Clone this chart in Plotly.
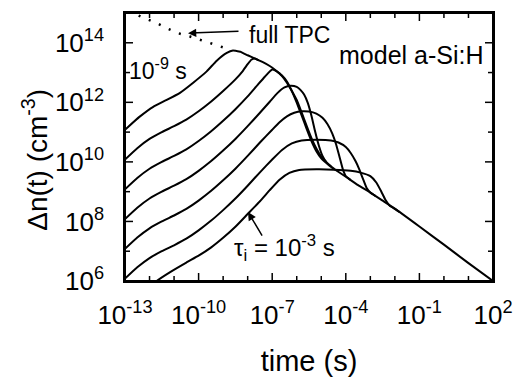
import plotly.graph_objects as go

# ---- data (log10 values) ----
# dotted "full TPC" at short times
tpc_dot_logt = [-12.85, -12.66, -12.18, -11.71, -11.3, -10.83, -10.35, -9.94, -9.53, -9.06, -8.72]
tpc_dot_logn = [15.07, 14.99, 14.82, 14.66, 14.49, 14.32, 14.21, 14.1, 13.97, 13.84, 13.77]

# solid full TPC (envelope) after the first peak
full_logt = [-8.3, -8.0, -7.7, -7.4, -7.1, -6.85, -6.6, -6.4, -6.2, -6.0, -5.8, -5.6, -5.4, -5.2,
             -5.0, -4.7, -4.4, -4.0, -3.5, -3.0, -2.5, -2.0, -1.0, 0.0, 1.0, 2.0]
full_logn = [13.7, 13.58, 13.47, 13.36, 13.22, 13.07, 12.9, 12.7, 12.38, 11.99, 11.56, 11.12, 10.7, 10.36,
             10.12, 9.9, 9.72, 9.5, 9.22, 8.97, 8.7, 8.43, 7.83, 7.22, 6.6, 6.0]

# tau_i = 1e-9 s
c1_logt = [-13.0, -12.4, -11.85, -11.3, -10.76, -10.22, -9.67, -9.26, -8.85, -8.6, -8.3]
c1_logn = [11.08, 11.52, 11.85, 12.08, 12.32, 12.66, 13.04, 13.4, 13.66, 13.74, 13.7]
# tau_i = 1e-8 s
c2_logt = [-13.0, -12.5, -12.0, -11.5, -11.0, -10.5, -10.0, -9.5, -9.0, -8.5, -8.2, -8.0, -7.85, -7.7, -7.55]
c2_logn = [10.08, 10.46, 10.77, 11.0, 11.2, 11.42, 11.7, 12.02, 12.38, 12.77, 13.05, 13.28, 13.43, 13.47, 13.41]
# tau_i = 1e-7 s
c3_logt = [-13.0, -12.5, -12.0, -11.5, -11.0, -10.5, -10.0, -9.5, -9.0, -8.5, -8.0, -7.6, -7.3, -7.0,
           -6.8, -6.6, -6.4, -6.2, -6.0, -5.8, -5.6, -5.4, -5.2, -5.0, -4.8]
c3_logn = [9.08, 9.46, 9.77, 10.0, 10.2, 10.42, 10.7, 11.02, 11.38, 11.77, 12.2, 12.58, 12.86, 13.1,
           13.03, 12.88, 12.66, 12.38, 12.08, 11.66, 11.22, 10.8, 10.45, 10.18, 10.0]
# tau_i = 1e-6 s
c4_logt = [-13.0, -12.5, -12.0, -11.5, -11.0, -10.5, -10.0, -9.5, -9.0, -8.5, -8.0, -7.5, -7.1, -6.8,
           -6.5, -6.25, -6.0, -5.85, -5.7, -5.55, -5.4, -5.25, -5.1, -4.95, -4.8, -4.6]
c4_logn = [8.08, 8.46, 8.77, 9.0, 9.2, 9.42, 9.7, 10.02, 10.38, 10.77, 11.2, 11.65, 12.02, 12.3,
           12.5, 12.56, 12.52, 12.42, 12.26, 11.98, 11.55, 11.02, 10.55, 10.2, 10.0, 9.85]
# tau_i = 1e-5 s
c5_logt = [-13.0, -12.5, -12.0, -11.5, -11.0, -10.5, -10.0, -9.5, -9.0, -8.5, -8.0, -7.5, -7.0, -6.7,
           -6.4, -6.1, -5.8, -5.5, -5.2, -4.95, -4.75, -4.55, -4.4, -4.25, -4.12, -4.0, -3.8]
c5_logn = [7.08, 7.46, 7.77, 8.0, 8.2, 8.42, 8.7, 9.02, 9.38, 9.77, 10.2, 10.65, 11.08, 11.33,
           11.53, 11.65, 11.7, 11.69, 11.62, 11.48, 11.27, 10.95, 10.6, 10.15, 9.75, 9.52, 9.39]
# tau_i = 1e-4 s
c6_logt = [-13.0, -12.5, -12.0, -11.5, -11.0, -10.5, -10.0, -9.5, -9.0, -8.5, -8.0, -7.5, -7.0, -6.6,
           -6.2, -5.8, -5.2, -4.6, -4.3, -4.0, -3.8, -3.6, -3.45, -3.3, -3.15, -3.0, -2.8]
c6_logn = [6.08, 6.46, 6.77, 7.0, 7.2, 7.42, 7.7, 8.02, 8.38, 8.77, 9.2, 9.65, 10.08, 10.4,
           10.62, 10.72, 10.74, 10.72, 10.65, 10.5, 10.3, 10.02, 9.75, 9.43, 9.12, 8.97, 8.86]
# tau_i = 1e-3 s
c7_logt = [-12.0, -11.71, -11.16, -10.5, -10.0, -9.5, -9.0, -8.5, -8.0, -7.5, -7.1, -6.7, -6.3, -5.9,
           -5.2, -4.5, -3.8, -3.4, -3.0, -2.75, -2.55, -2.38, -2.2, -2.05, -1.8]
c7_logn = [5.75, 6.0, 6.3, 6.62, 6.85, 7.12, 7.45, 7.82, 8.25, 8.68, 9.05, 9.4, 9.63, 9.73,
           9.75, 9.74, 9.7, 9.64, 9.52, 9.3, 9.0, 8.72, 8.52, 8.45, 8.31]

X_RANGE = [-13, 2]
Y_RANGE = [6, 15]
x_major = [-13, -10, -7, -4, -1, 2]
x_major_text = ["10<sup>-13</sup>", "10<sup>-10</sup>", "10<sup>-7</sup>", "10<sup>-4</sup>",
                "10<sup>-1</sup>", "10<sup>2</sup>"]
y_major = [6, 8, 10, 12, 14]
y_major_text = ["10<sup>6</sup>", "10<sup>8</sup>", "10<sup>10</sup>", "10<sup>12</sup>", "10<sup>14</sup>"]
x_minor = [e for e in range(-13, 3) if e not in x_major]
y_minor = [e for e in range(6, 16) if e not in y_major]

FONT = "Liberation Sans, Arial, Helvetica, sans-serif"


def p10(v):
    return [10.0 ** e for e in v]


fig = go.Figure()
line = dict(color="black", width=2, shape="spline", smoothing=0.4)

fig.add_trace(go.Scatter(x=p10(tpc_dot_logt), y=p10(tpc_dot_logn), mode="lines",
                         line=dict(color="black", width=2.5, dash="2px,9px"), name="full TPC"))
curves = [
    (c1_logt + full_logt, c1_logn + full_logn, "1e-9 s"),
    (c2_logt, c2_logn, "1e-8 s"),
    (c3_logt, c3_logn, "1e-7 s"),
    (c4_logt, c4_logn, "1e-6 s"),
    (c5_logt, c5_logn, "1e-5 s"),
    (c6_logt, c6_logn, "1e-4 s"),
    (c7_logt, c7_logn, "1e-3 s"),
]
for lt, ln, nm in curves:
    fig.add_trace(go.Scatter(x=p10(lt), y=p10(ln), mode="lines", line=line, name=nm))

# invisible outside ticks only push the labels away from the frame; visible ticks are shapes below
axis_common = dict(type="log", showgrid=False, zeroline=False, showline=True, linecolor="black",
                   linewidth=1.5, mirror=True, ticks="outside", tickcolor="rgba(0,0,0,0)",
                   tickfont=dict(family=FONT, size=26, color="black"))
fig.update_layout(
    xaxis=dict(**axis_common, range=X_RANGE, tickmode="array", tickvals=p10(x_major),
               ticktext=x_major_text, ticklen=10,
               title=dict(text="time (s)", font=dict(family=FONT, size=29, color="black"), standoff=22)),
    yaxis=dict(**axis_common, range=Y_RANGE, tickmode="array", tickvals=p10(y_major),
               ticktext=y_major_text, ticklen=14),
)

# frame and inside ticks on all four sides (positions from the tick arrays, in axis-domain units)
shapes = [dict(type="rect", xref="paper", yref="paper", x0=0, y0=0, x1=1, y1=1,
               line=dict(color="black", width=2), layer="above")]
tick_line = dict(color="black", width=1.5)
for vals, ln_ in ((x_major, 8), (x_minor, 5)):
    for e in vals:
        f = (e - X_RANGE[0]) / (X_RANGE[1] - X_RANGE[0])
        for anchor, sign in ((0, 1), (1, -1)):
            shapes.append(dict(type="line", xref="x domain", yref="y domain", x0=f, x1=f,
                               ysizemode="pixel", yanchor=anchor, y0=0, y1=sign * ln_,
                               line=tick_line, layer="above"))
for vals, ln_ in ((y_major, 8), (y_minor, 5)):
    for e in vals:
        f = (e - Y_RANGE[0]) / (Y_RANGE[1] - Y_RANGE[0])
        for anchor, sign in ((0, 1), (1, -1)):
            shapes.append(dict(type="line", xref="x domain", yref="y domain", y0=f, y1=f,
                               xsizemode="pixel", xanchor=anchor, x0=0, x1=sign * ln_,
                               line=tick_line, layer="above"))


def px2paper(px, py):
    return (px - 125) / 368.0, (283 - py) / 272.0


annots = []
for txt, (cx, cy), sz in [("full TPC", (289, 33), 23), ("model a-Si:H", (411, 54), 25),
                          ("10<sup>-9</sup> s", (158, 68), 23),
                          ("\u03c4<sub>i</sub> = 10<sup>-3</sup> s", (284, 250), 24)]:
    xx, yy = px2paper(cx, cy)
    annots.append(dict(text=txt, x=xx, y=yy, xref="paper", yref="paper", showarrow=False,
                       xanchor="center", yanchor="middle",
                       font=dict(family=FONT, size=sz, color="black")))
# y-axis title
xx, yy = px2paper(35, 160)
annots.append(dict(text="\u0394n(t) (cm<sup>-3</sup>)", x=xx, y=yy, xref="paper", yref="paper",
                   showarrow=False, textangle=-90, xanchor="center", yanchor="middle",
                   font=dict(family=FONT, size=28, color="black")))
for (hx, hy), (tx, ty) in [((188, 31.5), (240, 29.5)), ((248, 213), (263, 238))]:
    xx, yy = px2paper(hx, hy)
    annots.append(dict(text="", x=xx, y=yy, xref="paper", yref="paper", showarrow=True,
                       ax=tx - hx, ay=ty - hy, axref="pixel", ayref="pixel",
                       arrowhead=2, arrowsize=1.1, arrowwidth=1.5, arrowcolor="black"))

fig.update_layout(
    width=529, height=383, autosize=False, showlegend=False,
    margin=dict(l=125, r=36, t=11, b=100),
    paper_bgcolor="white", plot_bgcolor="white",
    annotations=annots, shapes=shapes,
)

fig.write_html("out.html", config={"displayModeBar": False},
               post_script="document.body.style.margin='0';document.body.style.padding='0';")
